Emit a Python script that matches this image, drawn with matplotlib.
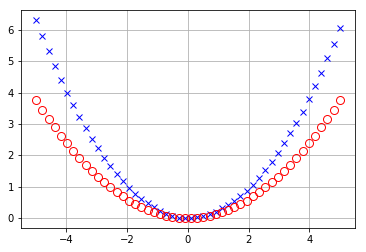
import matplotlib
matplotlib.use("Agg")
import matplotlib.pyplot as plt

# sample positions (50 evenly spaced points between -5 and 5)
x_vals = [-5.00, -4.80, -4.59, -4.39, -4.18, -3.98, -3.78, -3.57, -3.37, -3.16,
          -2.96, -2.76, -2.55, -2.35, -2.14, -1.94, -1.73, -1.53, -1.33, -1.12,
          -0.92, -0.71, -0.51, -0.31, -0.10,
          0.10, 0.31, 0.51, 0.71, 0.92, 1.12, 1.33, 1.53, 1.73, 1.94,
          2.14, 2.35, 2.55, 2.76, 2.96, 3.16, 3.37, 3.57, 3.78, 3.98,
          4.18, 4.39, 4.59, 4.80, 5.00]

# blue crosses (right branch sits a bit lower)
blue_y = [6.31, 5.81, 5.31, 4.84, 4.40, 3.98, 3.60, 3.22, 2.86, 2.52,
          2.23, 1.90, 1.66, 1.41, 1.17, 0.95, 0.76, 0.61, 0.47, 0.34,
          0.22, 0.13, 0.06, 0.02, 0.00,
          0.01, 0.03, 0.06, 0.12, 0.20, 0.31, 0.43, 0.55, 0.71, 0.88,
          1.07, 1.28, 1.52, 1.78, 2.06, 2.39, 2.70, 3.02, 3.39, 3.79,
          4.20, 4.62, 5.10, 5.54, 6.06]

# red open circles
red_y = [3.75, 3.45, 3.16, 2.89, 2.63, 2.38, 2.14, 1.91, 1.70, 1.50,
         1.31, 1.14, 0.98, 0.83, 0.69, 0.56, 0.45, 0.35, 0.26, 0.19,
         0.13, 0.08, 0.04, 0.014, 0.002,
         0.002, 0.014, 0.04, 0.08, 0.13, 0.19, 0.26, 0.35, 0.45, 0.56,
         0.69, 0.83, 0.98, 1.14, 1.31, 1.50, 1.70, 1.91, 2.14, 2.38,
         2.63, 2.89, 3.16, 3.45, 3.75]

fig = plt.figure(figsize=(366 / 72, 252 / 72), dpi=72)
ax = fig.add_axes([0.057, 0.095, 0.913, 0.865])

ax.plot(x_vals, blue_y, "x", color="blue", markersize=6)
ax.plot(x_vals, red_y, "o", markerfacecolor="none", markeredgecolor="red",
        markersize=8)

ax.grid(True)

fig.savefig("out.png", dpi=72)
